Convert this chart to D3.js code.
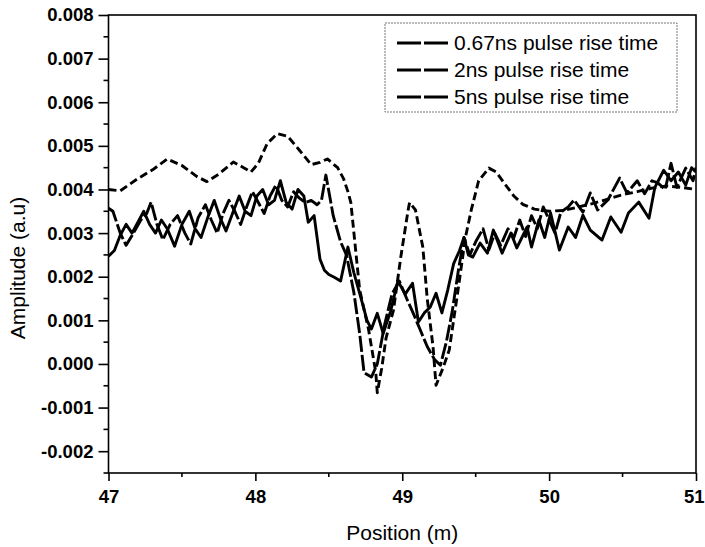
<!DOCTYPE html>
<html><head><meta charset="utf-8">
<script src="https://cdn.jsdelivr.net/npm/d3@7"></script>
<style>body{margin:0;background:#fff}svg{display:block}text{font-family:"Liberation Sans",Arial,sans-serif;fill:#000}</style>
</head><body><svg id="c" width="705" height="547"></svg>
<script>
const seriesNames = ["0.67ns pulse rise time","2ns pulse rise time","5ns pulse rise time"];
const xTicks = [47,48,49,50,51];
const yTicks = [-0.002,-0.001,0.000,0.001,0.002,0.003,0.004,0.005,0.006,0.007,0.008];
const yTickLabels = ["-0.002","-0.001","0.000","0.001","0.002","0.003","0.004","0.005","0.006","0.007","0.008"];

// Series A (smooth)
const posA = [47.00,47.08,47.2,47.3,47.4,47.5,47.6,47.67,47.75,47.85,47.92,47.97,48.02,48.08,48.15,48.22,48.3,48.38,48.44,48.49,48.56,48.60,48.63,48.65,48.71,48.77,48.82,48.83,48.86,48.89,48.94,48.99,49.04,49.05,49.09,49.14,49.17,49.21,49.23,49.28,49.32,49.38,49.43,49.47,49.52,49.59,49.64,49.70,49.76,49.82,49.90,50.00,50.10,50.20,50.30,50.40,50.50,50.60,50.70,50.80,50.90,51.00];
const ampA = [0.00400,0.00397,0.00425,0.00445,0.00470,0.00455,0.00430,0.00418,0.00435,0.00463,0.00450,0.00440,0.00460,0.00505,0.00528,0.00522,0.00490,0.00457,0.00462,0.00470,0.00450,0.00425,0.00395,0.00370,0.00170,0.00080,-0.00020,-0.00066,-0.00010,0.00060,0.00123,0.00245,0.00353,0.00370,0.00353,0.00268,0.00150,0.00038,-0.00049,-0.00007,0.00032,0.00170,0.00290,0.00353,0.00420,0.00449,0.00440,0.00412,0.00385,0.00366,0.00355,0.00350,0.00352,0.00360,0.00368,0.00378,0.00388,0.00395,0.00403,0.00408,0.00405,0.00400];

// Series B (noisy, with spike before the dip)
const posB = [47.00,47.03,47.08,47.12,47.17,47.22,47.26,47.29,47.33,47.37,47.42,47.47,47.52,47.56,47.61,47.66,47.70,47.74,47.78,47.82,47.86,47.90,47.94,47.98,48.02,48.06,48.10,48.14,48.18,48.22,48.26,48.30,48.34,48.38,48.42,48.45,48.48,48.53,48.58,48.62,48.67,48.71,48.74,48.79,48.83,48.88,48.93,48.98,49.03,49.07,49.12,49.17,49.22,49.26,49.30,49.34,49.38,49.42,49.46,49.50,49.55,49.59,49.63,49.67,49.72,49.76,49.80,49.84,49.88,49.92,49.96,50.00,50.04,50.08,50.13,50.17,50.23,50.28,50.33,50.40,50.48,50.53,50.60,50.65,50.70,50.74,50.79,50.83,50.87,50.93,50.98,51.00];
const ampB = [0.00357,0.00350,0.00300,0.00272,0.00300,0.00330,0.00345,0.00371,0.00320,0.00285,0.00320,0.00340,0.00300,0.00275,0.00335,0.00365,0.00330,0.00300,0.00345,0.00375,0.00350,0.00320,0.00360,0.00395,0.00370,0.00345,0.00385,0.00410,0.00375,0.00360,0.00395,0.00380,0.00370,0.00375,0.00365,0.00375,0.00433,0.00340,0.00280,0.00250,0.00165,0.00070,-0.00020,-0.00030,0.00000,0.00090,0.00160,0.00190,0.00150,0.00120,0.00080,0.00040,0.00010,-0.00003,0.00050,0.00120,0.00210,0.00290,0.00250,0.00280,0.00310,0.00262,0.00300,0.00272,0.00310,0.00290,0.00330,0.00292,0.00340,0.00310,0.00360,0.00330,0.00300,0.00348,0.00360,0.00376,0.00348,0.00392,0.00353,0.00376,0.00426,0.00392,0.00420,0.00390,0.00420,0.00415,0.00400,0.00460,0.00405,0.00449,0.00420,0.00450];

// Series C (noisy)
const posC = [47.00,47.04,47.08,47.12,47.16,47.20,47.24,47.28,47.32,47.36,47.40,47.45,47.50,47.55,47.59,47.63,47.68,47.72,47.76,47.80,47.85,47.89,47.93,47.97,48.01,48.05,48.09,48.13,48.17,48.21,48.25,48.29,48.33,48.36,48.40,48.44,48.47,48.50,48.54,48.58,48.63,48.67,48.72,48.76,48.79,48.83,48.87,48.92,48.97,49.02,49.07,49.11,49.15,49.19,49.23,49.27,49.31,49.35,49.39,49.42,49.45,49.48,49.53,49.58,49.62,49.68,49.74,49.78,49.85,49.88,49.93,49.97,50.01,50.07,50.13,50.18,50.23,50.28,50.36,50.42,50.49,50.54,50.61,50.68,50.72,50.78,50.83,50.88,50.93,50.97,51.00];
const ampC = [0.00247,0.00260,0.00295,0.00320,0.00300,0.00325,0.00350,0.00320,0.00300,0.00330,0.00310,0.00270,0.00320,0.00350,0.00310,0.00290,0.00340,0.00375,0.00335,0.00305,0.00350,0.00385,0.00350,0.00340,0.00385,0.00400,0.00365,0.00375,0.00420,0.00370,0.00355,0.00400,0.00385,0.00325,0.00340,0.00240,0.00215,0.00205,0.00198,0.00190,0.00268,0.00210,0.00150,0.00100,0.00080,0.00116,0.00070,0.00120,0.00190,0.00160,0.00185,0.00096,0.00117,0.00130,0.00162,0.00117,0.00170,0.00230,0.00260,0.00290,0.00250,0.00245,0.00277,0.00254,0.00307,0.00254,0.00300,0.00266,0.00314,0.00268,0.00330,0.00290,0.00346,0.00261,0.00314,0.00290,0.00341,0.00307,0.00284,0.00337,0.00302,0.00346,0.00371,0.00334,0.00405,0.00444,0.00420,0.00440,0.00410,0.00450,0.00440];

const series = [
  {x: posA, y: ampA, dash: "8,4"},
  {x: posB, y: ampB, dash: "16,3"},
  {x: posC, y: ampC, dash: null}
];

const svg = d3.select("#c");
const L = 108.5, R = 696, T = 15, B = 473;
const x = d3.scaleLinear().domain([47,51]).range([L,R]);
const y = d3.scaleLinear().domain([-0.0025,0.008]).range([B,T]);

// frame
svg.append("rect").attr("x",L).attr("y",T).attr("width",R-L).attr("height",B-T)
  .attr("fill","none").attr("stroke","#000").attr("stroke-width",1.6);

svg.append("clipPath").attr("id","clip").append("rect").attr("x",L).attr("y",T).attr("width",R-L).attr("height",B-T);

const line = d3.line().x(d=>x(d[0])).y(d=>y(d[1]));
series.forEach(s=>{
  const pts = s.x.map((v,i)=>[v,s.y[i]]);
  svg.append("path").datum(pts).attr("d",line).attr("clip-path","url(#clip)")
    .attr("fill","none").attr("stroke","#000").attr("stroke-width",2.9)
    .attr("stroke-linejoin","round")
    .attr("stroke-dasharray",s.dash);
});

// y axis
const yAxis = d3.axisLeft(y).tickValues(yTicks).tickSize(10).tickPadding(5)
  .tickFormat((d,i)=>yTickLabels[i]);
const gy = svg.append("g").attr("transform",`translate(${L},0)`).call(yAxis);
gy.select(".domain").remove();
gy.selectAll("line").attr("stroke-width",1.6);
gy.selectAll("text").attr("font-size",18.5).attr("font-weight","bold")
  .attr("font-family","'Liberation Sans',Arial,sans-serif");
const yMinor = d3.range(-0.0025,0.0081,0.001).map(v=>+v.toFixed(4));
svg.append("g").selectAll("line").data(yMinor).join("line")
  .attr("x1",L-5).attr("x2",L).attr("y1",d=>y(d)).attr("y2",d=>y(d))
  .attr("stroke","#000").attr("stroke-width",1.6);

// x axis
const xAxis = d3.axisBottom(x).tickValues(xTicks).tickSize(8).tickPadding(9).tickFormat(d3.format("d"));
const gx = svg.append("g").attr("transform",`translate(0,${B})`).call(xAxis);
gx.select(".domain").remove();
gx.selectAll("line").attr("stroke-width",1.6);
gx.selectAll("text").attr("font-size",18.5).attr("font-weight","bold")
  .attr("font-family","'Liberation Sans',Arial,sans-serif")
  .attr("text-anchor",(d,i,n)=>i===n.length-1?"end":"middle")
  .attr("dx",(d,i,n)=>i===n.length-1?"8":"0");
const xMinor = [47.5,48.5,49.5,50.5];
svg.append("g").selectAll("line").data(xMinor).join("line")
  .attr("x1",d=>x(d)).attr("x2",d=>x(d)).attr("y1",B).attr("y2",B+4)
  .attr("stroke","#000").attr("stroke-width",1.6);

// titles
svg.append("text").attr("x",(L+R)/2).attr("y",540).attr("text-anchor","middle")
  .attr("font-size",21).text("Position (m)");
svg.append("text").attr("transform","translate(25,268) rotate(-90)").attr("text-anchor","middle")
  .attr("font-size",21).text("Amplitude (a.u)");

// legend
const lg = svg.append("g");
lg.append("rect").attr("x",385).attr("y",23).attr("width",292).attr("height",89)
  .attr("fill","#fff").attr("stroke","#777").attr("stroke-width",1).attr("stroke-dasharray","2,1");
const rowsY = [43,70,97];
seriesNames.forEach((n,i)=>{
  lg.append("line").attr("x1",397).attr("x2",448).attr("y1",rowsY[i]).attr("y2",rowsY[i])
    .attr("stroke","#000").attr("stroke-width",2.9).attr("stroke-dasharray","24,3");
  lg.append("text").attr("x",454).attr("y",rowsY[i]+7).attr("font-size",21).text(n);
});
</script></body></html>
